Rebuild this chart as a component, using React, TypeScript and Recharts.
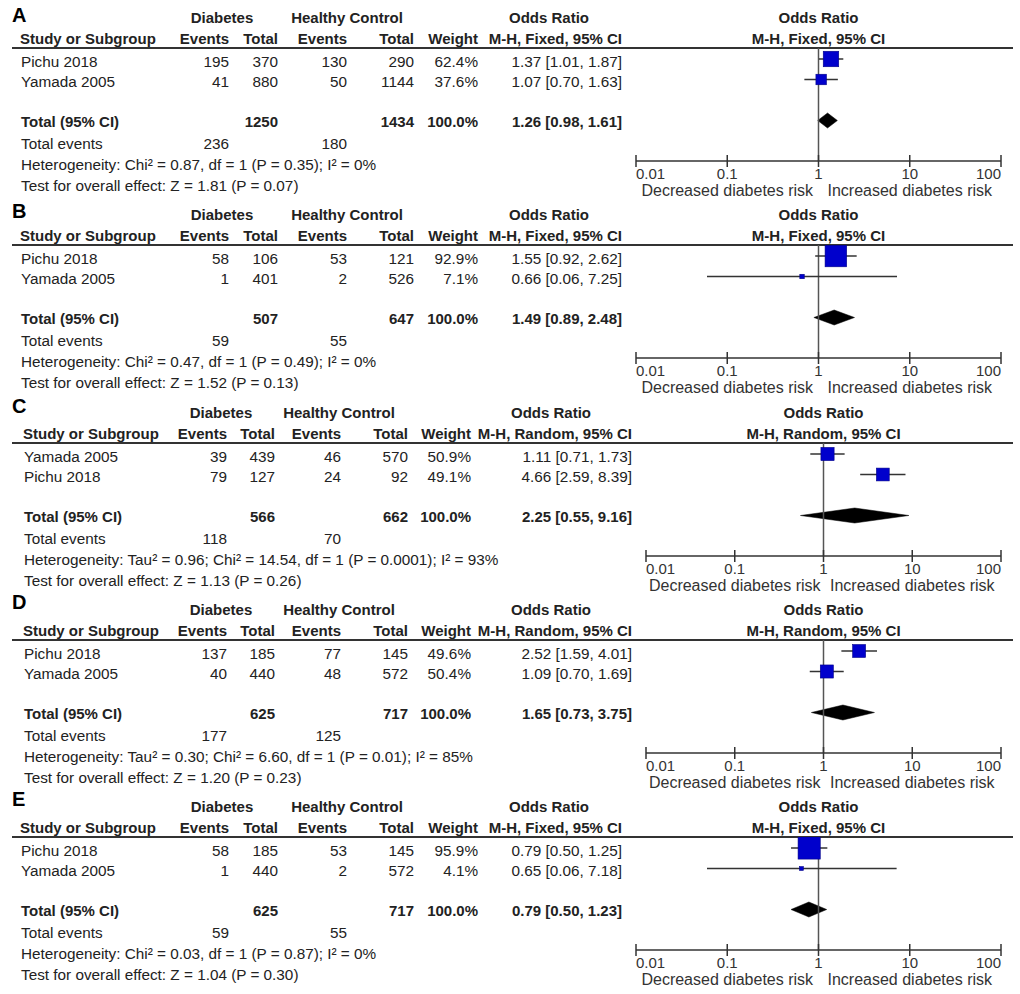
import React from 'react';
import { ScatterChart, Scatter, XAxis, YAxis, ReferenceLine, ReferenceArea } from 'recharts';

// ---------- data ----------
const panelLetters = ['A', 'B', 'C', 'D', 'E'];
const methods = ['Fixed', 'Fixed', 'Random', 'Random', 'Fixed'];
const studyNames = [
  ['Pichu 2018', 'Yamada 2005'],
  ['Pichu 2018', 'Yamada 2005'],
  ['Yamada 2005', 'Pichu 2018'],
  ['Pichu 2018', 'Yamada 2005'],
  ['Pichu 2018', 'Yamada 2005'],
];
const diabetesEvents = [[195, 41], [58, 1], [39, 79], [137, 40], [58, 1]];
const diabetesTotals = [[370, 880], [106, 401], [439, 127], [185, 440], [185, 440]];
const controlEvents = [[130, 50], [53, 2], [46, 24], [77, 48], [53, 2]];
const controlTotals = [[290, 1144], [121, 526], [570, 92], [145, 572], [145, 572]];
const studyWeights = [[62.4, 37.6], [92.9, 7.1], [50.9, 49.1], [49.6, 50.4], [95.9, 4.1]];
const studyOR = [[1.37, 1.07], [1.55, 0.66], [1.11, 4.66], [2.52, 1.09], [0.79, 0.65]];
const studyLower = [[1.01, 0.7], [0.92, 0.06], [0.71, 2.59], [1.59, 0.7], [0.5, 0.06]];
const studyUpper = [[1.87, 1.63], [2.62, 7.25], [1.73, 8.39], [4.01, 1.69], [1.25, 7.18]];
const pooledDiabetesTotal = [1250, 507, 566, 625, 625];
const pooledControlTotal = [1434, 647, 662, 717, 717];
const pooledOR = [1.26, 1.49, 2.25, 1.65, 0.79];
const pooledLower = [0.98, 0.89, 0.55, 0.73, 0.5];
const pooledUpper = [1.61, 2.48, 9.16, 3.75, 1.23];
const totalEventsDiabetes = [236, 59, 118, 177, 59];
const totalEventsControl = [180, 55, 70, 125, 55];
const heterogeneityText = [
  'Heterogeneity: Chi² = 0.87, df = 1 (P = 0.35); I² = 0%',
  'Heterogeneity: Chi² = 0.47, df = 1 (P = 0.49); I² = 0%',
  'Heterogeneity: Tau² = 0.96; Chi² = 14.54, df = 1 (P = 0.0001); I² = 93%',
  'Heterogeneity: Tau² = 0.30; Chi² = 6.60, df = 1 (P = 0.01); I² = 85%',
  'Heterogeneity: Chi² = 0.03, df = 1 (P = 0.87); I² = 0%',
];
const overallEffectText = [
  'Test for overall effect: Z = 1.81 (P = 0.07)',
  'Test for overall effect: Z = 1.52 (P = 0.13)',
  'Test for overall effect: Z = 1.13 (P = 0.26)',
  'Test for overall effect: Z = 1.20 (P = 0.23)',
  'Test for overall effect: Z = 1.04 (P = 0.30)',
];
const axisTicks = [0.01, 0.1, 1, 10, 100];
const axisTickLabels = ['0.01', '0.1', '1', '10', '100'];
const axisSideLabels = ['Decreased diabetes risk', 'Increased diabetes risk'];
const studyRows = [1, 2];
const pooledRow = 4;

// ---------- layout ----------
const FONT = '"Liberation Sans", Arial, Helvetica, sans-serif';
const TEXT = '#222';
const PANEL_TOP = [0, 197, 395, 592, 789];
const LETTER_BASE = [22, 218, 412.5, 609, 806];
const FIXED_COLS = { study: 20, dEv: 229, dTot: 278, cEv: 347, cTot: 414, wt: 478, or: 622, diabC: 222, ctrlC: 347, orC: 549, axisL: 636, axisR: 1001 };
const RANDOM_COLS = { study: 23, dEv: 227, dTot: 275, cEv: 341, cTot: 408, wt: 471, or: 632, diabC: 221, ctrlC: 339, orC: 551, axisL: 646, axisR: 1001 };
const B = { h1: 22.5, h2: 44.3, r1: 66.7, r2: 87.3, tot: 126.7, ev: 149, het: 170, test: 190.5 };
const LINE_Y = 48;
const AXIS_Y = 161;
const CHART_LEFT = 600;
const CHART_W = 420;
const CHART_H = 210;
const ROW_PX = 20.5;
const FIRST_ROW_PX = 11;
const rowMin = 1 - FIRST_ROW_PX / ROW_PX;
const rowMax = rowMin + (AXIS_Y - LINE_Y) / ROW_PX;
const NORMAL_SIZE = 15.3;

const fmt = (v: number) => v.toFixed(2);
const ciText = (o: number, l: number, h: number) => `${fmt(o)} [${fmt(l)}, ${fmt(h)}]`;

const ForestTick = (props: any) => {
  const { x, y, payload } = props;
  const i = axisTicks.indexOf(payload.value);
  const anchor = i === 0 ? 'start' : i === axisTicks.length - 1 ? 'end' : 'middle';
  return (
    <g>
      <line x1={x} x2={x} y1={y - 6} y2={y + 6} stroke="#333" strokeWidth={1.5} />
      <text x={x} y={y + 18} textAnchor={anchor} fontFamily={FONT} fontSize={15} fill="#333">
        {axisTickLabels[i]}
      </text>
      {i === 1 && (
        <text x={x} y={y + 35} textAnchor="middle" fontFamily={FONT} fontSize={16} fill="#333">
          {axisSideLabels[0]}
        </text>
      )}
      {i === 3 && (
        <text x={x} y={y + 35} textAnchor="middle" fontFamily={FONT} fontSize={16} fill="#333">
          {axisSideLabels[1]}
        </text>
      )}
    </g>
  );
};

const SquareShape = (p: any) => {
  const s = 3 + 0.2 * p.payload.weight;
  return <rect x={p.cx - s / 2} y={p.cy - s / 2} width={s} height={s} fill="#0000cc" stroke="#000088" strokeWidth={0.6} />;
};

const DiamondShape = (p: any) => {
  const { x, y, width, height } = p;
  const pts = `${x},${y + height / 2} ${x + width / 2},${y} ${x + width},${y + height / 2} ${x + width / 2},${y + height}`;
  return <polygon points={pts} fill="#000" stroke="#000" strokeWidth={0.5} />;
};

const Panel = ({ i }: { i: number }) => {
  const cols = methods[i] === 'Random' ? RANDOM_COLS : FIXED_COLS;
  const data = studyRows.map((r, k) => ({ or: studyOR[i][k], row: r, weight: studyWeights[i][k] }));
  const halfH = 7.5 / ROW_PX;
  return (
    <div style={{ position: 'absolute', left: CHART_LEFT, top: PANEL_TOP[i], width: CHART_W, height: CHART_H }}>
      <ScatterChart
        width={CHART_W}
        height={CHART_H}
        margin={{ top: LINE_Y, bottom: 0, left: cols.axisL - CHART_LEFT, right: CHART_W - (cols.axisR - CHART_LEFT) }}
      >
        <XAxis
          type="number"
          dataKey="or"
          scale="log"
          domain={[0.01, 100]}
          ticks={axisTicks}
          interval={0}
          allowDataOverflow
          height={CHART_H - AXIS_Y}
          tickLine={false}
          tickSize={0}
          tickMargin={0}
          axisLine={{ stroke: '#333', strokeWidth: 1.5 }}
          tick={<ForestTick />}
        />
        <YAxis type="number" dataKey="row" hide reversed domain={[rowMin, rowMax]} allowDataOverflow />
        <ReferenceLine x={1} stroke="#555" strokeWidth={1.5} />
        {studyRows.map((r, k) => (
          <ReferenceLine
            key={k}
            segment={[{ x: studyLower[i][k], y: r }, { x: studyUpper[i][k], y: r }]}
            stroke="#333"
            strokeWidth={1.5}
          />
        ))}
        <ReferenceArea
          x1={pooledLower[i]}
          x2={pooledUpper[i]}
          y1={pooledRow - halfH}
          y2={pooledRow + halfH}
          shape={DiamondShape}
        />
        <Scatter data={data} shape={SquareShape} isAnimationActive={false} />
      </ScatterChart>
    </div>
  );
};

const PanelText = ({ i }: { i: number }) => {
  const cols = methods[i] === 'Random' ? RANDOM_COLS : FIXED_COLS;
  const t = PANEL_TOP[i];
  const plotC = (cols.axisL + cols.axisR) / 2;
  const mh = `M-H, ${methods[i]}, 95% CI`;
  const common = { fontFamily: FONT, fontSize: NORMAL_SIZE, fill: TEXT };
  const bold = { fontFamily: FONT, fontSize: 15, fill: TEXT, fontWeight: 'bold' as const };
  return (
    <g>
      <text x={12} y={LETTER_BASE[i]} fontFamily={FONT} fontSize={20} fontWeight="bold" fill="#000">
        {panelLetters[i]}
      </text>
      <text x={cols.diabC} y={t + B.h1} textAnchor="middle" {...bold}>Diabetes</text>
      <text x={cols.ctrlC} y={t + B.h1} textAnchor="middle" {...bold}>Healthy Control</text>
      <text x={cols.orC} y={t + B.h1} textAnchor="middle" {...bold}>Odds Ratio</text>
      <text x={plotC} y={t + B.h1} textAnchor="middle" {...bold}>Odds Ratio</text>
      <text x={cols.study} y={t + B.h2} {...bold}>Study or Subgroup</text>
      <text x={cols.dEv} y={t + B.h2} textAnchor="end" {...bold}>Events</text>
      <text x={cols.dTot} y={t + B.h2} textAnchor="end" {...bold}>Total</text>
      <text x={cols.cEv} y={t + B.h2} textAnchor="end" {...bold}>Events</text>
      <text x={cols.cTot} y={t + B.h2} textAnchor="end" {...bold}>Total</text>
      <text x={cols.wt} y={t + B.h2} textAnchor="end" {...bold}>Weight</text>
      <text x={cols.or} y={t + B.h2} textAnchor="end" {...bold}>{mh}</text>
      <text x={plotC} y={t + B.h2} textAnchor="middle" {...bold}>{mh}</text>
      <line x1={12} x2={1013} y1={t + LINE_Y} y2={t + LINE_Y} stroke="#333" strokeWidth={2} />
      {[B.r1, B.r2].map((yy, k) => (
        <g key={k}>
          <text x={cols.study + 1} y={t + yy} {...common}>{studyNames[i][k]}</text>
          <text x={cols.dEv} y={t + yy} textAnchor="end" {...common}>{diabetesEvents[i][k]}</text>
          <text x={cols.dTot} y={t + yy} textAnchor="end" {...common}>{diabetesTotals[i][k]}</text>
          <text x={cols.cEv} y={t + yy} textAnchor="end" {...common}>{controlEvents[i][k]}</text>
          <text x={cols.cTot} y={t + yy} textAnchor="end" {...common}>{controlTotals[i][k]}</text>
          <text x={cols.wt} y={t + yy} textAnchor="end" {...common}>{studyWeights[i][k].toFixed(1)}%</text>
          <text x={cols.or} y={t + yy} textAnchor="end" {...common}>
            {ciText(studyOR[i][k], studyLower[i][k], studyUpper[i][k])}
          </text>
        </g>
      ))}
      <text x={cols.study + 1} y={t + B.tot} {...bold}>Total (95% CI)</text>
      <text x={cols.dTot} y={t + B.tot} textAnchor="end" {...bold}>{pooledDiabetesTotal[i]}</text>
      <text x={cols.cTot} y={t + B.tot} textAnchor="end" {...bold}>{pooledControlTotal[i]}</text>
      <text x={cols.wt} y={t + B.tot} textAnchor="end" {...bold}>100.0%</text>
      <text x={cols.or} y={t + B.tot} textAnchor="end" {...bold}>
        {ciText(pooledOR[i], pooledLower[i], pooledUpper[i])}
      </text>
      <text x={cols.study + 1} y={t + B.ev} {...common}>Total events</text>
      <text x={cols.dEv} y={t + B.ev} textAnchor="end" {...common}>{totalEventsDiabetes[i]}</text>
      <text x={cols.cEv} y={t + B.ev} textAnchor="end" {...common}>{totalEventsControl[i]}</text>
      <text x={cols.study + 1} y={t + B.het} {...common}>{heterogeneityText[i]}</text>
      <text x={cols.study + 1} y={t + B.test} {...common}>{overallEffectText[i]}</text>
    </g>
  );
};

export default function App() {
  return (
    <div style={{ position: 'absolute', left: 0, top: 0, width: 1020, height: 994, background: '#fff', overflow: 'hidden' }}>
      <svg width={1020} height={994} style={{ position: 'absolute', left: 0, top: 0 }}>
        {panelLetters.map((_, i) => (
          <PanelText key={i} i={i} />
        ))}
      </svg>
      {panelLetters.map((_, i) => (
        <Panel key={i} i={i} />
      ))}
    </div>
  );
}
